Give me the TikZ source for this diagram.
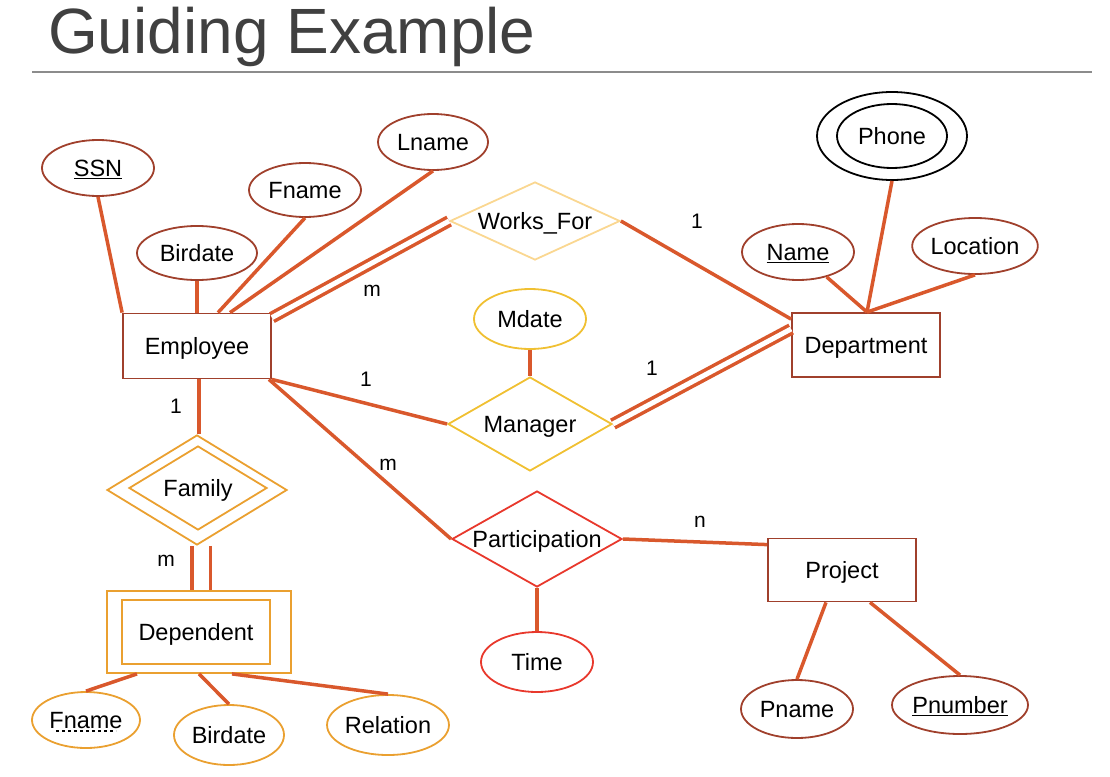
\documentclass[tikz,border=0pt]{standalone}
\usepackage{fontspec}
\setmainfont{Liberation Sans}
\usetikzlibrary{shapes.geometric}
\definecolor{attrc}{RGB}{160,64,44}
\definecolor{linec}{RGB}{217,88,44}
\definecolor{worksc}{RGB}{250,215,145}
\definecolor{mgrc}{RGB}{240,192,50}
\definecolor{weakc}{RGB}{234,160,48}
\definecolor{partc}{RGB}{232,56,44}
\definecolor{titlec}{RGB}{64,64,64}
\definecolor{rulec}{RGB}{140,140,140}

\begin{document}
\begin{tikzpicture}[x=1pt, y=-1pt,
  every node/.style={font=\fontsize{23.5}{27}\selectfont, inner sep=0pt, text depth=0pt},
  attr/.style={ellipse, draw=attrc, line width=1.8pt},
  ent/.style={rectangle, draw=attrc, line width=1.8pt},
  rel/.style={diamond, aspect=2, line width=1.8pt},
  conn/.style={draw=linec, line width=3.5pt},
  dbl/.style={conn, double=white, double distance=#1},
  card/.style={font=\fontsize{21}{25}\selectfont}]
\useasboundingbox (0,0) rectangle (1110,776);
\node[anchor=base west, font=\fontsize{64}{70}\selectfont, text=titlec] (title) at (48,53) {Guiding Example};
\draw[rulec, line width=1.2pt] (32,72) -- (1092,72);

\node[attr, minimum width=112, minimum height=56] (ssn) at (98,168) {\underline{SSN}};
\node[attr, minimum width=120, minimum height=54] (ebirth) at (197,253) {Birdate};
\node[attr, minimum width=112, minimum height=54] (efname) at (305,190) {Fname};
\node[attr, minimum width=110, minimum height=56] (lname) at (433,142) {Lname};
\node[ent, minimum width=148, minimum height=65] (emp) at (197,346) {Employee};
\node[rel, aspect=2.2, draw=worksc, minimum width=170, minimum height=78] (works) at (535,221) {Works\_For};
\node[ent, minimum width=148, minimum height=64] (dept) at (866,345) {Department};
\node[ellipse, draw, line width=1.8pt, minimum width=150, minimum height=88] (phoneo) at (892,136) {};
\node[ellipse, draw, line width=1.8pt, minimum width=110, minimum height=64] (phone) at (892,136) {Phone};
\node[attr, minimum width=112, minimum height=56] (dname) at (798,252) {\underline{Name}};
\node[attr, minimum width=118, minimum height=56] (loc) at (975,246) {Location};
\node[attr, draw=mgrc, minimum width=112, minimum height=60] (mdate) at (530,319) {Mdate};
\node[rel, aspect=1.75, draw=mgrc, minimum width=164, minimum height=94] (mgr) at (530,424) {Manager};
\node[rel, aspect=1.65, draw=weakc, minimum width=180, minimum height=110] (famo) at (197,490) {};
\node[rel, aspect=1.65, draw=weakc, minimum width=138, minimum height=84] (fam) at (198,488) {Family};
\node[ent, draw=weakc, minimum width=184, minimum height=82] (depo) at (199,632) {};
\node[ent, draw=weakc, minimum width=148, minimum height=64] (dep) at (196,632) {Dependent};
\node[rel, aspect=1.77, draw=partc, minimum width=170, minimum height=96] (part) at (537,539) {Participation};
\node[attr, draw=partc, minimum width=112, minimum height=60] (time) at (537,662) {Time};
\node[ent, minimum width=148, minimum height=63] (proj) at (842,570) {Project};
\node[attr, minimum width=112, minimum height=58] (pname) at (797,709) {Pname};
\node[attr, minimum width=136, minimum height=58] (pnum) at (960,705) {\underline{Pnumber}};
\node[attr, draw=weakc, minimum width=108, minimum height=56] (dfname) at (86,720) {Fname};
\node[attr, draw=weakc, minimum width=110, minimum height=60] (dbirth) at (229,735) {Birdate};
\node[attr, draw=weakc, minimum width=112, minimum height=60] (drel) at (388,725) {Relation};
\draw[dashed, line width=1.4pt] ([shift={(-30,11)}]dfname.center) -- ++(60,0);

\draw[conn] (ssn.south) -- (emp.north west);
\draw[conn] (ebirth.south) -- (emp.north);
\draw[conn] (efname.south) -- ([xshift=21pt]emp.north);
\draw[conn] (lname.south) -- ([xshift=33pt]emp.north);
\draw[dbl=5pt] ([yshift=-5pt]emp.north east) -- (works.west);
\draw[conn] (works.east) -- ([yshift=-7pt]dept.north west);
\draw[conn] (emp.south east) -- (mgr.west);
\draw[dbl=5pt] (mgr.east) -- ([yshift=16pt]dept.west);
\draw[conn] (mdate.south) -- (mgr.north);
\draw[conn] ([xshift=-3pt]emp.south east) -- (part.west);
\draw[conn] (part.east) -- ([yshift=-7pt]proj.north west);
\draw[conn] (part.south) -- (time.north);
\draw[conn] ([xshift=-16pt]proj.south) -- (pname.north);
\draw[conn] ([xshift=28pt]proj.south) -- (pnum.north);
\draw[conn] (dname) -- ([xshift=1pt]dept.north);
\draw[conn] (loc.south) -- ([xshift=1pt]dept.north);
\draw[conn] (phoneo.south) -- ([xshift=1pt]dept.north);
\draw[conn] ([xshift=2pt]emp.south) -- ([xshift=2pt]famo.north);
\draw[dbl=15pt] ([xshift=4pt]famo.south) -- ([xshift=2pt]depo.north);
\draw[conn] ([xshift=-62pt]depo.south) -- (dfname.north);
\draw[conn] (depo.south) -- (dbirth.north);
\draw[conn] ([xshift=33pt]depo.south) -- (drel.north);

\node[card] (cw1) at (372,291) {m};
\node[card] (cw2) at (697,221) {1};
\node[card] (cm1) at (366,379) {1};
\node[card] (cm2) at (652,368) {1};
\node[card] (cp1) at (388,465) {m};
\node[card] (cp2) at (700,522) {n};
\node[card] (cf1) at (176,406) {1};
\node[card] (cf2) at (166,561) {m};
\end{tikzpicture}
\end{document}
